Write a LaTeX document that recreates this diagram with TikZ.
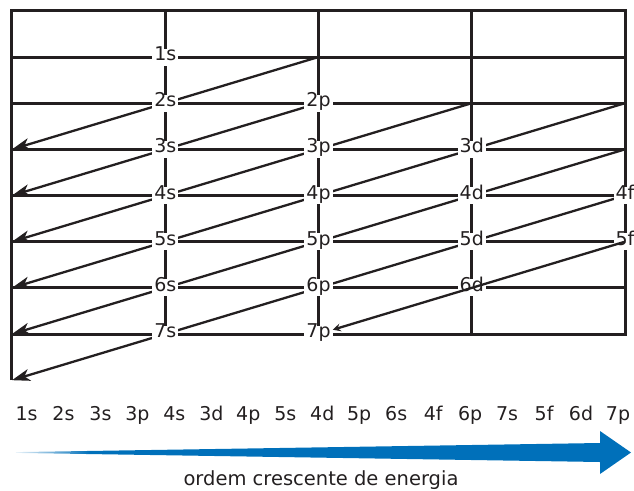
\documentclass[tikz,border=0pt]{standalone}
\usepackage{fontspec}
\setmainfont{DejaVu Sans}
\usepackage{tikz}
\usetikzlibrary{arrows.meta}
\definecolor{inkblack}{RGB}{35,31,32}
\definecolor{energyblue}{RGB}{0,112,186}
\pgfdeclarehorizontalshading{energyfade}{100bp}{color(0bp)=(white); color(25bp)=(energyblue!8); color(31bp)=(energyblue); color(100bp)=(energyblue)}

\begin{document}
\begin{tikzpicture}[x=153.25pt,y=-46.17pt,
  gridline/.style={inkblack,line width=3pt},
  diag/.style={inkblack,line width=2.3pt,-{Stealth[length=18pt,width=12pt,inset=5pt]}},
  orb/.style={fill=white,text=inkblack,inner xsep=2pt,inner ysep=3pt,text height=0.9em,text depth=0.2em,font=\fontsize{19}{22}\selectfont},
  ordlab/.style={text=inkblack,inner sep=0pt,anchor=base,font=\fontsize{19}{22}\selectfont}]
\useasboundingbox (-12pt,10.83pt) rectangle (622pt,-479.17pt);
% grid
\draw[gridline] (0,8) -- (0,0) -- (4,0) -- (4,7) -- (0,7);
\foreach \r in {1,...,6} \draw[gridline] (0,\r) -- (4,\r);
\foreach \c in {1,...,3} \draw[gridline] (\c,0) -- (\c,7);
% diagonals
\foreach \c/\r/\e in {2/1/3,2/2/4,3/2/5,4/2/6,4/3/7,4/4/8}
  \draw[diag] (\c,\r) -- (0,\e);
% orbitals
\foreach \lab/\c/\r in {1s/1/1,2s/1/2,2p/2/2,3s/1/3,3p/2/3,3d/3/3,4s/1/4,4p/2/4,4d/3/4,4f/4/4,5s/1/5,5p/2/5,5d/3/5,5f/4/5,6s/1/6,6p/2/6,6d/3/6,7s/1/7,7p/2/7}
  \node[orb] (n\lab) at (\c,\r) {\lab};
\draw[inkblack,line width=2.3pt,-{Stealth[length=8pt,width=8pt,inset=3pt]}] (4,5) -- (n7p);
% energy order
\foreach \lab [count=\k from 0] in {1s,2s,3s,3p,4s,3d,4p,5s,4d,5p,6s,4f,6p,7s,5f,6d,7p}
  \node[ordlab] (o\k) at ({14.5pt+\k*36.97pt},-409.17pt) {\lab};
\shade[shading=energyfade] (4pt,-441.27pt) -- (588pt,-432.17pt) -- (588pt,-420.17pt)
  -- (619pt,-441.67pt) -- (588pt,-463.17pt) -- (588pt,-451.17pt) -- (4pt,-442.07pt) -- cycle;
\node[text=inkblack,anchor=base,inner sep=0pt,font=\fontsize{19.5}{22}\selectfont] (ordem) at (309pt,-474.17pt) {ordem crescente de energia};
\end{tikzpicture}
\end{document}
